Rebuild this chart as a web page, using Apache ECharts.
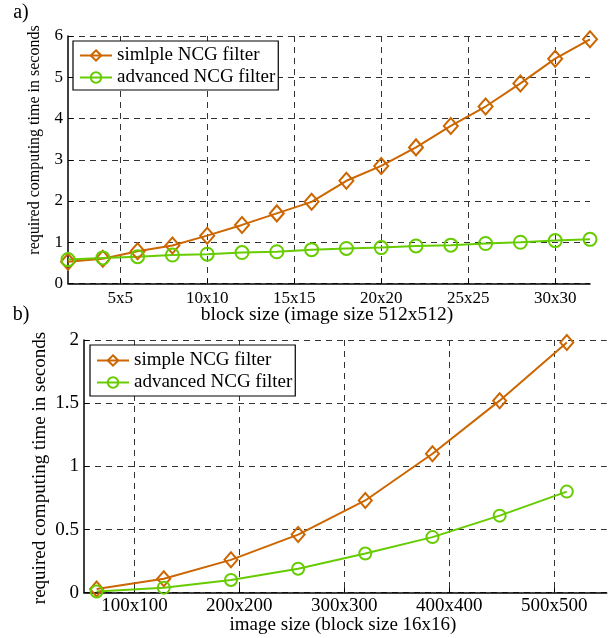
<!DOCTYPE html>
<html>
<head>
<meta charset="utf-8">
<script src="https://cdn.jsdelivr.net/npm/echarts@6/dist/echarts.min.js"></script>
<style>
  html, body { margin: 0; padding: 0; background: #fff; }
  #chart { width: 610px; height: 638px; }
</style>
</head>
<body>
<div id="chart"></div>
<script>
// Panel a) block size sweep, image 512x512
const blockSizes = [2, 4, 6, 8, 10, 12, 14, 16, 18, 20, 22, 24, 26, 28, 30, 32];
const simpleTimesA = [0.53, 0.60, 0.78, 0.92, 1.16, 1.42, 1.70, 1.98, 2.49, 2.85, 3.30, 3.82, 4.29, 4.85, 5.45, 5.92];
const advancedTimesA = [0.58, 0.62, 0.65, 0.69, 0.71, 0.75, 0.77, 0.82, 0.85, 0.87, 0.91, 0.93, 0.97, 1.00, 1.04, 1.07];
const blockTicks = [5, 10, 15, 20, 25, 30];

// Panel b) image size sweep, block 16x16
const imageSizes = [64, 128, 192, 256, 320, 384, 448, 512];
const simpleTimesB = [0.03, 0.11, 0.26, 0.46, 0.73, 1.10, 1.52, 1.98];
const advancedTimesB = [0.01, 0.04, 0.10, 0.19, 0.31, 0.44, 0.61, 0.80];
const imageTicks = [100, 200, 300, 400, 500];

const seriesNamesA = ['simlple NCG filter', 'advanced NCG filter'];
const seriesNamesB = ['simple NCG filter', 'advanced NCG filter'];

const ORANGE = '#cc6600';
const GREEN = '#66cc00';
const FONT = '"Liberation Serif", "Times New Roman", serif';

const chart = echarts.init(document.getElementById('chart'), null, { renderer: 'canvas' });

function pairs(xs, ys) { return xs.map((x, i) => [x, ys[i]]); }

const dashed = { show: true, lineStyle: { color: '#333', width: 1, type: [6, 5] } };

function xAxisCfg(gridIndex, min, max, ticks, fontSize, margin) {
  return {
    type: 'value', gridIndex, min, max,
    axisLine: { show: true, onZero: false, lineStyle: { color: '#000', width: 1.5 } },
    axisTick: { show: true, inside: true, length: 5, customValues: ticks, lineStyle: { color: '#000' } },
    axisLabel: { customValues: ticks, formatter: v => v + 'x' + v, color: '#000', fontFamily: FONT, fontSize, margin },
    splitLine: dashed
  };
}

function yAxisCfg(gridIndex, max, interval, fontSize) {
  return {
    type: 'value', gridIndex, min: 0, max, interval,
    axisLine: { show: true, lineStyle: { color: '#000', width: 1.5 } },
    axisTick: { show: true, inside: true, length: 5, lineStyle: { color: '#000' } },
    axisLabel: { color: '#000', fontFamily: FONT, fontSize, margin: 5 },
    splitLine: dashed
  };
}

function lineSeries(name, xi, yi, data, color, symbol, size) {
  return {
    type: 'line', name, xAxisIndex: xi, yAxisIndex: yi, data,
    symbol, symbolSize: size, showAllSymbol: true,
    lineStyle: { color, width: 2 },
    itemStyle: { color: 'rgba(255,255,255,0)', borderColor: color, borderWidth: 2 },
    animation: false
  };
}

function legendCfg(names, left, top, fontSize, itemGap, padding) {
  return {
    data: names.map(n => ({ name: n, itemStyle: { color: 'rgba(255,255,255,0)' } })),
    orient: 'vertical', left, top,
    backgroundColor: '#fff',
    borderColor: '#000', borderWidth: 1.2,
    padding,
    itemWidth: 32, itemHeight: 13, itemGap,
    textStyle: { color: '#000', fontFamily: FONT, fontSize },
    selectedMode: false
  };
}

function text(str, x, y, fontSize, rotation) {
  return {
    type: 'text', x, y, rotation: rotation || 0,
    style: { text: str, fill: '#000', font: fontSize + 'px ' + FONT, align: 'center', verticalAlign: 'middle' }
  };
}

chart.setOption({
  animation: false,
  grid: [
    { left: 68, right: 20, top: 36, bottom: 354.5 },
    { left: 84, right: 3.3, top: 340, bottom: 45.3 }
  ],
  xAxis: [
    xAxisCfg(0, 2, 32, blockTicks, 17, 7),
    xAxisCfg(1, 52, 550, imageTicks, 19, 4)
  ],
  yAxis: [
    yAxisCfg(0, 6, 1, 17),
    yAxisCfg(1, 2, 0.5, 19)
  ],
  legend: [
    legendCfg(seriesNamesA, 73, 41, 19, 3, [5, 3, 3, 6]),
    legendCfg(seriesNamesB, 90, 345, 19, 3, [6, 3, 4, 6])
  ],
  series: [
    lineSeries(seriesNamesA[0], 0, 0, pairs(blockSizes, simpleTimesA), ORANGE, 'diamond', [14, 16]),
    lineSeries(seriesNamesA[1], 0, 0, pairs(blockSizes, advancedTimesA), GREEN, 'circle', 13),
    lineSeries(seriesNamesB[0], 1, 1, pairs(imageSizes, simpleTimesB), ORANGE, 'diamond', [13, 15]),
    lineSeries(seriesNamesB[1], 1, 1, pairs(imageSizes, advancedTimesB), GREEN, 'circle', 12)
  ],
  graphic: [
    text('a)', 21, 13, 20),
    text('b)', 21, 315, 20),
    text('block size (image size 512x512)', 327, 315, 19.5),
    text('image size (block size 16x16)', 343, 625, 19),
    text('required computing time in seconds', 35, 140, 16, Math.PI / 2),
    text('required computing time in seconds', 40, 468, 19, Math.PI / 2)
  ]
});
</script>
</body>
</html>
